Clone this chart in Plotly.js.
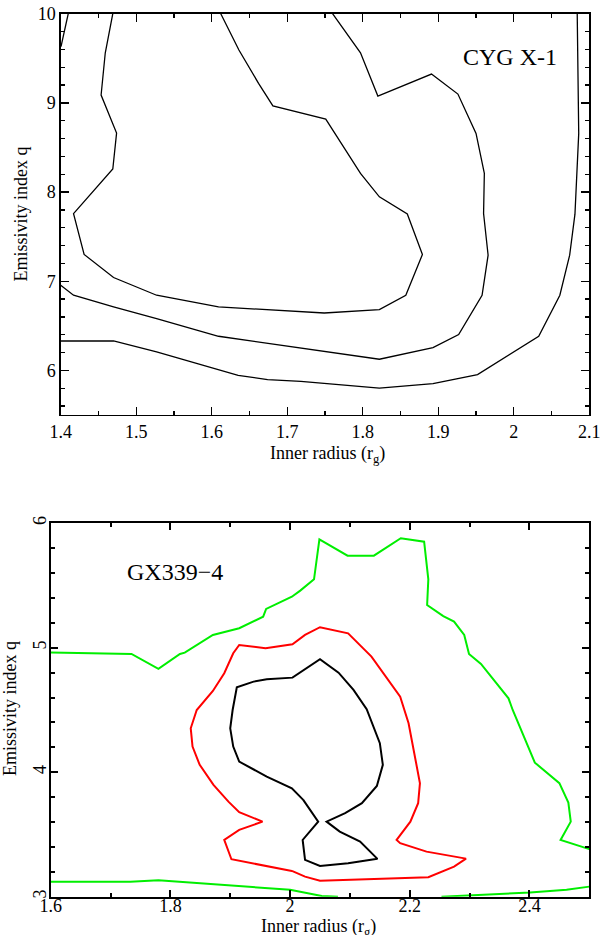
<!DOCTYPE html>
<html>
<head>
<meta charset="utf-8">
<script src="https://cdn.plot.ly/plotly-3.0.1.min.js"></script>
<style>html,body{margin:0;padding:0;background:#fff;}#chart{width:604px;height:935px;}</style>
</head>
<body>
<div id="chart"></div>
<script>
// ---- CYG X-1 (top panel) contours ----
const cygInnerX = [1.469,1.459,1.4535,1.474,1.469,1.417,1.431,1.470,1.527,1.609,1.749,1.822,1.857,1.879,1.859,1.822,1.797,1.751,1.681,1.662,1.636,1.612];
const cygInnerY = [10.0,9.559,9.088,8.661,8.258,7.758,7.300,7.042,6.843,6.712,6.644,6.682,6.843,7.300,7.755,7.946,8.209,8.818,8.967,9.219,9.593,10.0];
const cygMiddleX = [1.400,1.417,1.470,1.527,1.609,1.718,1.822,1.893,1.927,1.958,1.966,1.960,1.961,1.950,1.926,1.891,1.820,1.797,1.760];
const cygMiddleY = [6.955,6.843,6.712,6.581,6.383,6.251,6.125,6.256,6.402,6.843,7.292,7.760,8.209,8.658,9.099,9.323,9.076,9.562,10.0];
const cygOuterX = [1.400,1.470,1.527,1.635,1.674,1.718,1.822,1.893,1.952,2.033,2.061,2.074,2.081,2.086,2.084];
const cygOuterY = [6.330,6.330,6.207,5.945,5.897,5.878,5.802,5.852,5.953,6.383,6.843,7.292,7.752,8.658,10.0];
const cygCornerX = [1.410,1.4004];
const cygCornerY = [10.0,9.630];

// ---- GX339-4 (bottom panel) contours ----
const gxGreenTopX = [1.600,1.688,1.735,1.780,1.816,1.824,1.871,1.915,1.955,1.960,2.003,2.017,2.040,2.049,2.096,2.140,2.185,2.224,2.228,2.231,2.229,2.256,2.274,2.291,2.299,2.319,2.365,2.372,2.409,2.450,2.465,2.469,2.452,2.500];
const gxGreenTopY = [4.961,4.950,4.950,4.830,4.950,4.961,5.103,5.157,5.250,5.312,5.410,5.459,5.550,5.871,5.740,5.740,5.880,5.852,5.705,5.550,5.344,5.255,5.210,5.103,4.950,4.870,4.594,4.500,4.077,3.912,3.756,3.603,3.456,3.382];
const gxGreenLowAX = [1.600,1.733,1.780,1.849,2.000,2.053,2.080];
const gxGreenLowAY = [3.121,3.121,3.133,3.108,3.055,3.006,3.000];
const gxGreenLowBX = [2.253,2.401,2.462,2.500];
const gxGreenLowBY = [3.000,3.033,3.055,3.081];
const gxRedX = [2.003,1.902,1.890,1.915,1.954,1.915,1.897,1.872,1.849,1.837,1.834,1.844,1.871,1.890,1.905,1.915,1.959,2.004,2.025,2.050,2.097,2.136,2.184,2.198,2.217,2.214,2.201,2.178,2.184,2.228,2.294,2.274,2.231,2.050,2.025,2.003];
const gxRedY = [3.207,3.301,3.456,3.537,3.603,3.679,3.764,3.898,4.059,4.206,4.353,4.500,4.653,4.795,4.956,5.022,4.996,5.028,5.103,5.165,5.116,4.929,4.607,4.394,3.912,3.751,3.603,3.456,3.430,3.362,3.306,3.242,3.157,3.129,3.161,3.207];
const gxBlackX = [2.022,2.003,1.961,1.915,1.905,1.900,1.904,1.911,1.939,1.961,2.004,2.019,2.050,2.081,2.106,2.128,2.135,2.150,2.155,2.145,2.120,2.092,2.061,2.083,2.117,2.146,2.097,2.050,2.025,2.021,2.047,2.022];
const gxBlackY = [3.778,3.870,3.965,4.085,4.206,4.353,4.500,4.683,4.728,4.747,4.760,4.808,4.908,4.800,4.661,4.506,4.420,4.233,4.059,3.890,3.751,3.671,3.603,3.523,3.443,3.304,3.269,3.247,3.296,3.456,3.603,3.778];

// ---- labels ----
const topLabel = "CYG X-1";
const bottomLabel = "GX339\u22124";
const xTitle = "Inner radius (r<sub>g</sub>)";
const yTitle = "Emissivity index q";

const FONT = '"Liberation Serif", "Times New Roman", Times, serif';
const W = 604, H = 935;

function line(x, y, color, width, xa, ya) {
  return {x: x, y: y, type: 'scatter', mode: 'lines', xaxis: xa, yaxis: ya,
          line: {color: color, width: width}, hoverinfo: 'skip', showlegend: false};
}

const data = [
  line(cygInnerX, cygInnerY, '#000', 1.3, 'x', 'y'),
  line(cygMiddleX, cygMiddleY, '#000', 1.3, 'x', 'y'),
  line(cygOuterX, cygOuterY, '#000', 1.3, 'x', 'y'),
  line(cygCornerX, cygCornerY, '#000', 1.3, 'x', 'y'),
  line(gxGreenTopX, gxGreenTopY, '#00ee00', 2, 'x2', 'y2'),
  line(gxGreenLowAX, gxGreenLowAY, '#00ee00', 2, 'x2', 'y2'),
  line(gxGreenLowBX, gxGreenLowBY, '#00ee00', 2, 'x2', 'y2'),
  line(gxRedX, gxRedY, '#ff0000', 2, 'x2', 'y2'),
  line(gxBlackX, gxBlackY, '#000', 2, 'x2', 'y2')
];

function axisBase(lw, len) {
  return {showline: true, linecolor: '#000', linewidth: lw, mirror: 'allticks',
          ticks: 'inside', ticklen: len, tickwidth: lw, tickcolor: '#000',
          showgrid: false, zeroline: false, fixedrange: true,
          tickfont: {family: FONT, size: 18, color: '#000'}};
}

const xaxis = Object.assign(axisBase(1.3, 8), {
  domain: [60.7/W, 589.3/W], anchor: 'y', range: [1.4, 2.1], tick0: 1.4, dtick: 0.1,
  minor: {dtick: 0.05, ticklen: 4, tickwidth: 1.3, tickcolor: '#000', ticks: 'inside'}
});
const yaxis = Object.assign(axisBase(1.3, 8), {
  domain: [1 - 415/H, 1 - 13.7/H], anchor: 'x', range: [5.5, 10], tick0: 0, dtick: 1,
  minor: {dtick: 0.2, ticklen: 4, tickwidth: 1.3, tickcolor: '#000', ticks: 'inside'}
});
const xaxis2 = Object.assign(axisBase(2, 7), {
  domain: [50.7/W, 589.3/W], anchor: 'y2', range: [1.6, 2.5], tick0: 1.6, dtick: 0.2,
  ticklabelstandoff: -8,
  minor: {dtick: 0.1, ticklen: 4, tickwidth: 2, tickcolor: '#000', ticks: 'inside'}
});
const yaxis2 = Object.assign(axisBase(2, 7), {
  domain: [1 - 896.7/H, 1 - 523.3/H], anchor: 'x2', range: [3, 6], tick0: 0, dtick: 1,
  tickangle: -90, ticklabelstandoff: -4,
  minor: {dtick: 0.2, ticklen: 4, tickwidth: 2, tickcolor: '#000', ticks: 'inside'}
});

const annotations = [
  {text: topLabel, xref: 'x', yref: 'y', x: 1.995, y: 9.517, showarrow: false,
   font: {family: FONT, size: 24, color: '#000'}, xanchor: 'center', yanchor: 'middle'},
  {text: bottomLabel, xref: 'x2', yref: 'y2', x: 1.8077, y: 5.611, showarrow: false,
   font: {family: FONT, size: 24, color: '#000'}, xanchor: 'center', yanchor: 'middle'},
  {text: xTitle, xref: 'paper', yref: 'paper', x: 327/W, y: 1 - 454/H, showarrow: false,
   font: {family: FONT, size: 18, color: '#000'}, xanchor: 'center', yanchor: 'middle'},
  {text: yTitle, xref: 'paper', yref: 'paper', x: 20.5/W, y: 1 - 214/H, showarrow: false, textangle: -90,
   font: {family: FONT, size: 18, color: '#000'}, xanchor: 'center', yanchor: 'middle'},
  {text: xTitle, xref: 'paper', yref: 'paper', x: 318/W, y: 1 - 927/H, showarrow: false,
   font: {family: FONT, size: 18, color: '#000'}, xanchor: 'center', yanchor: 'middle', borderpad: 0},
  {text: yTitle, xref: 'paper', yref: 'paper', x: 10/W, y: 1 - 709/H, showarrow: false, textangle: -90,
   font: {family: FONT, size: 18, color: '#000'}, xanchor: 'center', yanchor: 'middle'}
];

const layout = {
  width: W, height: H, margin: {l: 0, r: 0, t: 0, b: 0, pad: 0},
  paper_bgcolor: '#fff', plot_bgcolor: '#fff', showlegend: false,
  xaxis: xaxis, yaxis: yaxis, xaxis2: xaxis2, yaxis2: yaxis2,
  annotations: annotations
};

Plotly.newPlot('chart', data, layout, {staticPlot: true, displayModeBar: false});
</script>
</body>
</html>
